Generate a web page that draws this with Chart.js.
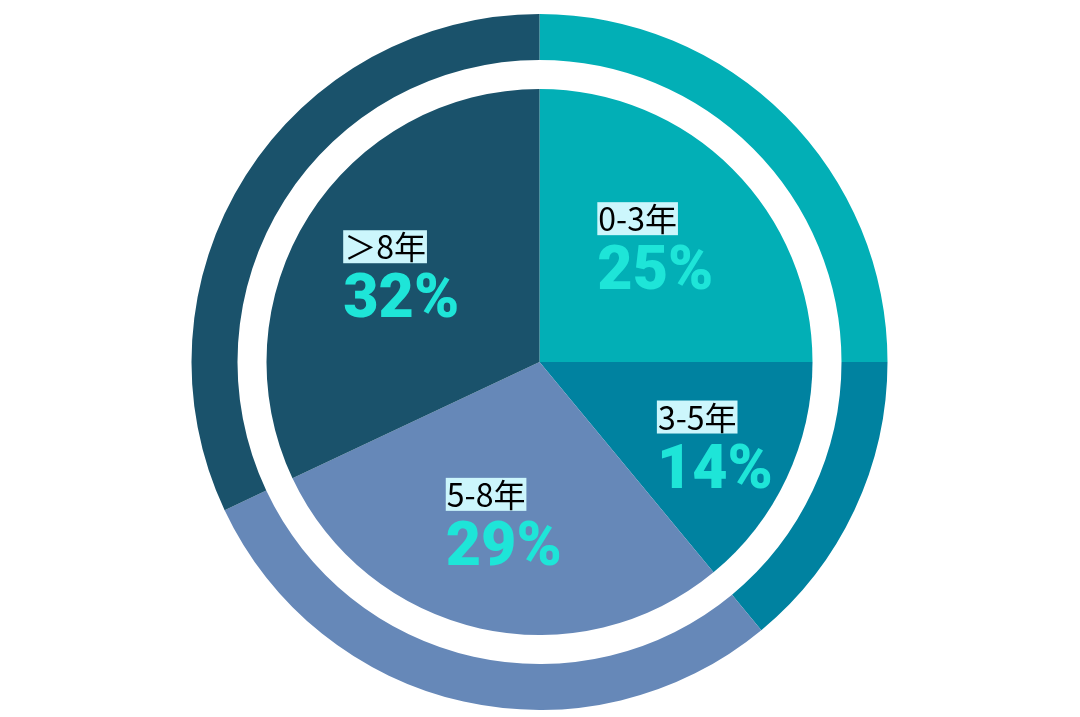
<!DOCTYPE html>
<html>
<head>
<meta charset="utf-8">
<script src="https://cdn.jsdelivr.net/npm/chart.js@4"></script>
<style>
  html, body { margin: 0; padding: 0; background: #fff; }
  #wrap { width: 1080px; height: 717px; }
</style>
</head>
<body>
<div id="wrap"><canvas id="pie"></canvas></div>
<script>
// work-experience share
const categories = ['0-3年', '3-5年', '5-8年', '＞8年'];
const shares     = [25, 14, 29, 32];
const sliceColors = ['#02AFB6', '#0082A0', '#6688B8', '#1A526B'];

const NAME_FONT = "32px 'Noto Sans CJK SC', 'Noto Sans', sans-serif";
const PCT_FONT  = "900 61px Roboto, Inter, sans-serif";

// labels drawn inside each slice: name on a pale box, big % below
const sliceLabels = {
    id: 'sliceLabels',
    afterDatasetsDraw(chart) {
        const ctx  = chart.ctx;
        const meta = chart.getDatasetMeta(2);
        const ds   = chart.data.datasets[2];
        meta.data.forEach((arc, i) => {
            const p = arc.getProps(['x', 'y', 'startAngle', 'endAngle', 'outerRadius'], true);
            const mid = (p.startAngle + p.endAngle) / 2;
            const frac = ds.data[i] < 20 ? 0.71 : 0.6;
            const cx = p.x + Math.cos(mid) * p.outerRadius * frac;
            const cy = p.y + Math.sin(mid) * p.outerRadius * frac;

            const name = categories[i];
            const pct  = ds.data[i] + '%';

            ctx.save();
            ctx.font = NAME_FONT;
            const nameW = ctx.measureText(name).width;
            ctx.font = PCT_FONT;
            const pctW = ctx.measureText(pct).width;
            const left = cx - Math.max(nameW + 2, pctW) / 2;

            // name box
            ctx.fillStyle = '#CCF6FC';
            ctx.fillRect(left, cy - 44, nameW + 2, 33);
            ctx.fillStyle = '#000';
            ctx.font = NAME_FONT;
            ctx.textBaseline = 'middle';
            ctx.textAlign = 'left';
            ctx.fillText(name, left + 1, cy - 27);

            // percent
            ctx.fillStyle = '#1EE5D8';
            ctx.font = PCT_FONT;
            ctx.textBaseline = 'alphabetic';
            ctx.fillText(pct, left, cy + 43);
            ctx.restore();
        });
    }
};

new Chart(document.getElementById('pie'), {
    type: 'doughnut',
    data: {
        labels: categories,
        datasets: [
            {   // outer ring
                data: shares,
                backgroundColor: sliceColors,
                borderWidth: 0,
                weight: 46
            },
            {   // white gap
                data: shares,
                backgroundColor: 'rgba(0,0,0,0)',
                borderWidth: 0,
                weight: 29
            },
            {   // inner pie
                data: shares,
                backgroundColor: sliceColors,
                borderWidth: 0,
                weight: 273
            }
        ]
    },
    options: {
        responsive: true,
        maintainAspectRatio: false,
        animation: false,
        cutout: 0,
        layout: { padding: { top: 14, bottom: 7, left: 0, right: 1 } },
        plugins: {
            legend: { display: false },
            tooltip: { enabled: false }
        }
    },
    plugins: [sliceLabels]
});
</script>
</body>
</html>
